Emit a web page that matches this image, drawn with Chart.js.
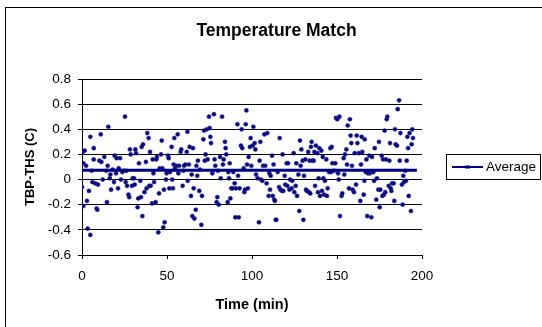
<!DOCTYPE html>
<html>
<head>
<meta charset="utf-8">
<script src="https://cdn.jsdelivr.net/npm/chart.js@4/dist/chart.umd.min.js"></script>
<style>
  html, body { margin: 0; padding: 0; background: #fff; }
  #wrap { width: 542px; height: 327px; position: relative; }
</style>
</head>
<body>
<div id="wrap"><canvas id="scatterChart"></canvas></div>
<script>
// values (time in min, TBP-THS in C)
var times = [0,0,0.8,1.6,0.8,2.4,2.9,3.3,4.1,4.9,4.9,5.7,6.1,6.9,6.9,7.8,8.6,9.0,9.4,10.2,
  11.0,11.4,12.2,13.1,14.3,14.7,15.1,15.5,16.3,16.7,17.1,18.0,18.8,19.2,20.0,20.4,21.2,21.6,22.4,22.9,
  23.7,24.5,25.3,25.7,26.1,26.5,27.3,27.8,28.2,28.6,29.4,29.8,30.6,31.0,31.4,31.8,32.7,33.1,33.5,34.3,
  34.7,35.1,35.5,35.9,36.7,37.6,38.0,38.4,39.2,39.6,40.0,40.4,41.2,41.6,42.0,42.4,43.3,43.7,44.1,44.9,
  45.3,45.7,46.5,46.9,47.3,47.8,48.2,48.6,49.4,49.8,50.6,51.0,51.4,51.8,52.7,53.1,53.5,53.9,54.3,54.7,
  55.5,56.3,56.7,57.1,58.0,58.4,59.2,59.6,60.0,60.8,61.6,62.0,62.2,62.9,63.3,64.1,64.5,64.9,65.3,65.7,
  66.1,66.9,67.3,67.8,68.2,69.0,69.4,70.2,70.6,71.4,71.8,72.2,72.7,73.5,73.9,74.7,75.1,75.5,75.9,76.7,
  77.6,78.0,78.4,79.2,79.6,80.0,80.4,81.2,81.6,82.4,82.9,83.3,84.1,84.5,84.9,85.7,86.1,86.5,86.9,87.3,
  87.8,88.6,89.0,89.8,90.2,90.6,91.4,91.8,92.2,92.7,93.5,93.9,94.3,95.1,95.5,95.9,96.3,96.7,97.1,97.6,
  98.0,98.8,99.2,99.6,100.4,100.8,101.6,102.0,102.4,103.3,104.1,104.5,104.9,105.3,106.1,106.5,107.3,107.8,108.6,109.0,
  109.8,110.2,110.6,111.0,111.8,112.2,112.7,113.1,113.5,113.9,114.3,115.1,115.9,116.3,116.7,117.6,118.0,118.4,119.2,119.6,
  120.4,120.8,121.2,122.0,122.4,123.3,123.7,124.5,124.9,125.7,126.1,126.5,127.3,127.8,128.2,128.6,129.0,129.8,130.2,130.6,
  131.4,131.8,132.2,133.1,133.5,133.9,134.3,134.7,135.1,135.5,136.3,136.7,137.1,137.6,138.4,138.8,139.2,139.6,140.0,140.8,
  141.2,141.6,142.0,142.4,142.9,143.7,144.1,144.5,145.3,146.1,146.5,146.9,147.3,148.2,149.0,149.4,150.2,150.6,151.0,151.4,
  151.8,152.7,153.1,153.9,154.3,154.7,155.5,155.9,156.3,157.1,157.6,158.0,158.4,158.8,159.2,160.0,160.4,161.2,161.6,162.0,
  162.9,163.7,164.1,164.5,164.9,165.7,166.1,166.3,166.9,167.3,167.8,168.2,169.0,169.4,170.2,170.6,171.4,171.8,172.2,173.1,
  173.5,174.3,174.7,175.1,175.5,176.3,176.7,177.1,177.6,178.0,178.4,178.8,179.2,179.6,180.4,180.8,181.2,181.6,182.0,182.4,
  183.3,183.7,184.1,184.5,185.3,185.7,186.5,186.9,187.3,188.2,188.6,189.0,189.4,190.2,190.6,191.0,191.4,191.8,192.2,192.7,
  193.5,193.9,194.3,194.7];

var deltas = [-0.06,0.21,0.13,0.23,-0.21,0.11,-0.17,-0.39,-0.09,-0.44,0.34,0.07,-0.02,0.25,0.16,-0.03,-0.23,-0.24,-0.04,0.15,
  0.36,0.14,0.00,0.18,0.07,-0.18,0.11,0.42,0.01,0.04,-0.08,0.08,-0.02,0.19,0.05,0.17,-0.07,0.09,0.17,0.00,
  0.06,0.07,0.50,-0.02,0.07,-0.05,-0.12,-0.14,0.24,0.20,-0.05,0.01,0.01,-0.04,0.24,0.21,-0.22,-0.15,0.13,-0.01,
  -0.14,0.26,-0.29,0.28,-0.10,0.14,-0.07,0.37,0.33,-0.05,0.22,-0.05,-0.19,0.16,0.05,-0.02,-0.18,0.16,0.18,-0.42,
  -0.11,0.09,0.20,0.31,0.09,-0.38,-0.08,-0.34,0.00,0.05,0.19,0.17,-0.07,0.06,0.26,0.00,-0.07,0.12,0.33,0.09,
  0.11,0.36,0.05,0.11,0.22,0.24,-0.05,0.07,0.11,0.12,0.22,0.38,-0.01,0.12,0.26,-0.13,0.04,-0.29,0.25,-0.07,
  -0.31,-0.24,0.11,0.03,0.15,-0.09,0.08,-0.36,-0.13,0.32,0.39,0.15,0.20,0.40,0.16,0.50,0.41,0.34,0.29,0.05,
  0.52,0.16,0.11,-0.18,-0.14,0.07,-0.20,0.18,0.01,0.50,0.12,0.16,0.30,0.25,0.20,-0.18,0.06,0.01,0.13,-0.15,
  -0.07,-0.07,0.06,-0.03,-0.30,-0.07,0.44,0.03,-0.30,-0.07,0.27,0.40,0.25,0.09,-0.10,-0.08,0.44,0.55,0.12,-0.07,
  0.18,0.26,0.33,0.11,0.27,0.42,0.29,0.24,0.04,0.01,-0.34,0.15,0.30,0.00,-0.01,0.11,0.36,0.11,-0.03,0.37,
  -0.13,0.05,-0.08,0.03,0.19,-0.13,0.12,-0.16,-0.17,-0.32,-0.32,0.06,-0.06,0.33,-0.08,-0.09,0.20,-0.09,0.03,-0.04,
  0.13,-0.05,0.13,-0.08,0.00,-0.07,-0.01,0.21,-0.10,-0.05,0.13,-0.13,0.04,-0.25,0.31,0.11,0.24,0.15,-0.32,0.03,
  0.16,-0.08,-0.09,0.22,-0.10,0.15,-0.11,0.26,0.30,0.15,0.15,0.22,-0.05,0.27,0.21,-0.10,0.01,0.25,-0.13,0.23,
  -0.09,0.18,0.01,-0.12,-0.01,0.16,-0.13,-0.07,0.06,0.25,0.06,0.26,0.13,0.07,0.13,0.49,0.48,0.05,0.00,0.50,
  -0.29,-0.13,-0.11,0.17,0.04,0.20,0.24,0.12,0.43,-0.07,0.48,0.35,0.29,0.11,-0.08,-0.10,0.21,-0.04,0.35,0.29,
  0.21,-0.17,0.12,0.34,0.22,-0.12,-0.01,0.32,0.06,0.16,-0.29,0.05,0.19,0.05,-0.30,0.18,0.06,-0.01,0.25,-0.16,
  0.01,-0.08,0.30,-0.22,-0.08,0.19,-0.13,0.16,-0.12,0.39,-0.10,0.16,0.48,0.50,-0.05,0.15,0.29,-0.07,-0.09,-0.03,
  -0.03,-0.17,0.40,0.28,0.27,0.56,0.63,0.15,0.37,-0.04,-0.20,0.03,-0.02,0.07,-0.01,0.15,0.34,0.25,-0.13,0.37,
  -0.25,0.28,0.40,0.33];

var avg_times = [0, 197];
var avg_values = [0.075, 0.075];

var x_ticks = [0, 50, 100, 150, 200];
var y_ticks = [-0.6, -0.4, -0.2, 0, 0.2, 0.4, 0.6, 0.8];

var navy = '#000080';
var font_family = '"Liberation Sans", Arial, sans-serif';

function toPoints(xs, ys) {
    var pts = [];
    for (var i = 0; i < xs.length; i++) pts.push({ x: xs[i], y: ys[i] });
    return pts;
}

function fixTicks(list) {
    return function (scale) {
        scale.ticks = list.map(v => ({ value: v }));
    };
}

// frame round the whole chart (left + top edges visible)
var framePlugin = {
    id: 'frame',
    beforeDraw(chart) {
        const ctx = chart.ctx;
        ctx.save();
        ctx.strokeStyle = '#000';
        ctx.lineWidth = 1;
        ctx.strokeRect(5.5, 7.5, 600, 400);
        ctx.restore();
    }
};

// excel style boxed legend, only the Average series
var legendPlugin = {
    id: 'boxLegend',
    afterDraw(chart) {
        const ctx = chart.ctx;
        const ds = chart.data.datasets[1];
        ctx.save();
        ctx.strokeStyle = '#000';
        ctx.lineWidth = 1;
        ctx.strokeRect(446.5, 154.5, 94, 25);
        ctx.strokeStyle = ds.borderColor;
        ctx.lineWidth = 2;
        ctx.beginPath();
        ctx.moveTo(452, 167);
        ctx.lineTo(483, 167);
        ctx.stroke();
        ctx.fillStyle = ds.borderColor;
        ctx.fillRect(465, 165.5, 5, 3);
        ctx.fillStyle = '#000';
        ctx.font = '13.5px ' + font_family;
        ctx.textBaseline = 'middle';
        ctx.textAlign = 'left';
        ctx.fillText(ds.label, 486, 167.5);
        ctx.restore();
    }
};

function renderChart() {
    const ctx = document.getElementById('scatterChart').getContext('2d');
    new Chart(ctx, {
        type: 'scatter',
        data: {
            datasets: [
                { label: 'TBP-THS', data: toPoints(times, deltas), backgroundColor: navy, borderColor: '#3a3a8a', borderWidth: 0.5, pointRadius: 2.1, order: 2 },
                { type: 'line', label: 'Average', data: toPoints(avg_times, avg_values), borderColor: navy, borderWidth: 3, pointRadius: 0, fill: false, order: 1 }
            ]
        },
        options: {
            responsive: true,
            maintainAspectRatio: false,
            animation: false,
            events: [],
            layout: { padding: { left: 11, right: 0, top: 0, bottom: 0 } },
            plugins: {
                legend: { display: false },
                tooltip: { enabled: false },
                title: {
                    display: true,
                    text: 'Temperature Match',
                    color: '#000',
                    font: { family: font_family, size: 17.5, weight: 'bold' },
                    padding: { top: 21, bottom: 37 }
                }
            },
            scales: {
                x: {
                    type: 'linear',
                    min: 0, max: 200,
                    afterBuildTicks: fixTicks(x_ticks),
                    afterFit: s => { s.height = 72; },
                    grid: { drawOnChartArea: false, drawTicks: true, tickLength: 4, color: '#000' },
                    border: { color: '#000', width: 1 },
                    ticks: { color: '#000', padding: 9.5, maxRotation: 0, font: { family: font_family, size: 13.5 } },
                    title: { display: true, text: 'Time (min)', color: '#000', padding: { top: 0, bottom: 13 }, font: { family: font_family, size: 14.5, weight: 'bold' } }
                },
                y: {
                    type: 'linear',
                    min: -0.6, max: 0.8,
                    afterBuildTicks: fixTicks(y_ticks),
                    afterFit: s => { s.width = 71; },
                    grid: { color: '#000', drawTicks: true, tickLength: 4 },
                    border: { color: '#000', width: 1 },
                    ticks: {
                        color: '#000', padding: 7,
                        font: { family: font_family, size: 13.5 },
                        callback: v => String(Math.round(v * 10) / 10)
                    },
                    title: { display: true, text: 'TBP-THS (C)', color: '#000', padding: { top: 12, bottom: 0 }, font: { family: font_family, size: 13, weight: 'bold' } }
                },
                // empty axis that keeps room for the legend on the right
                pad: {
                    type: 'linear',
                    position: 'right',
                    display: true,
                    afterFit: s => { s.width = 120; },
                    grid: { display: false },
                    border: { display: false },
                    ticks: { display: false }
                }
            }
        },
        plugins: [framePlugin, legendPlugin]
    });
}

renderChart();
</script>
</body>
</html>
